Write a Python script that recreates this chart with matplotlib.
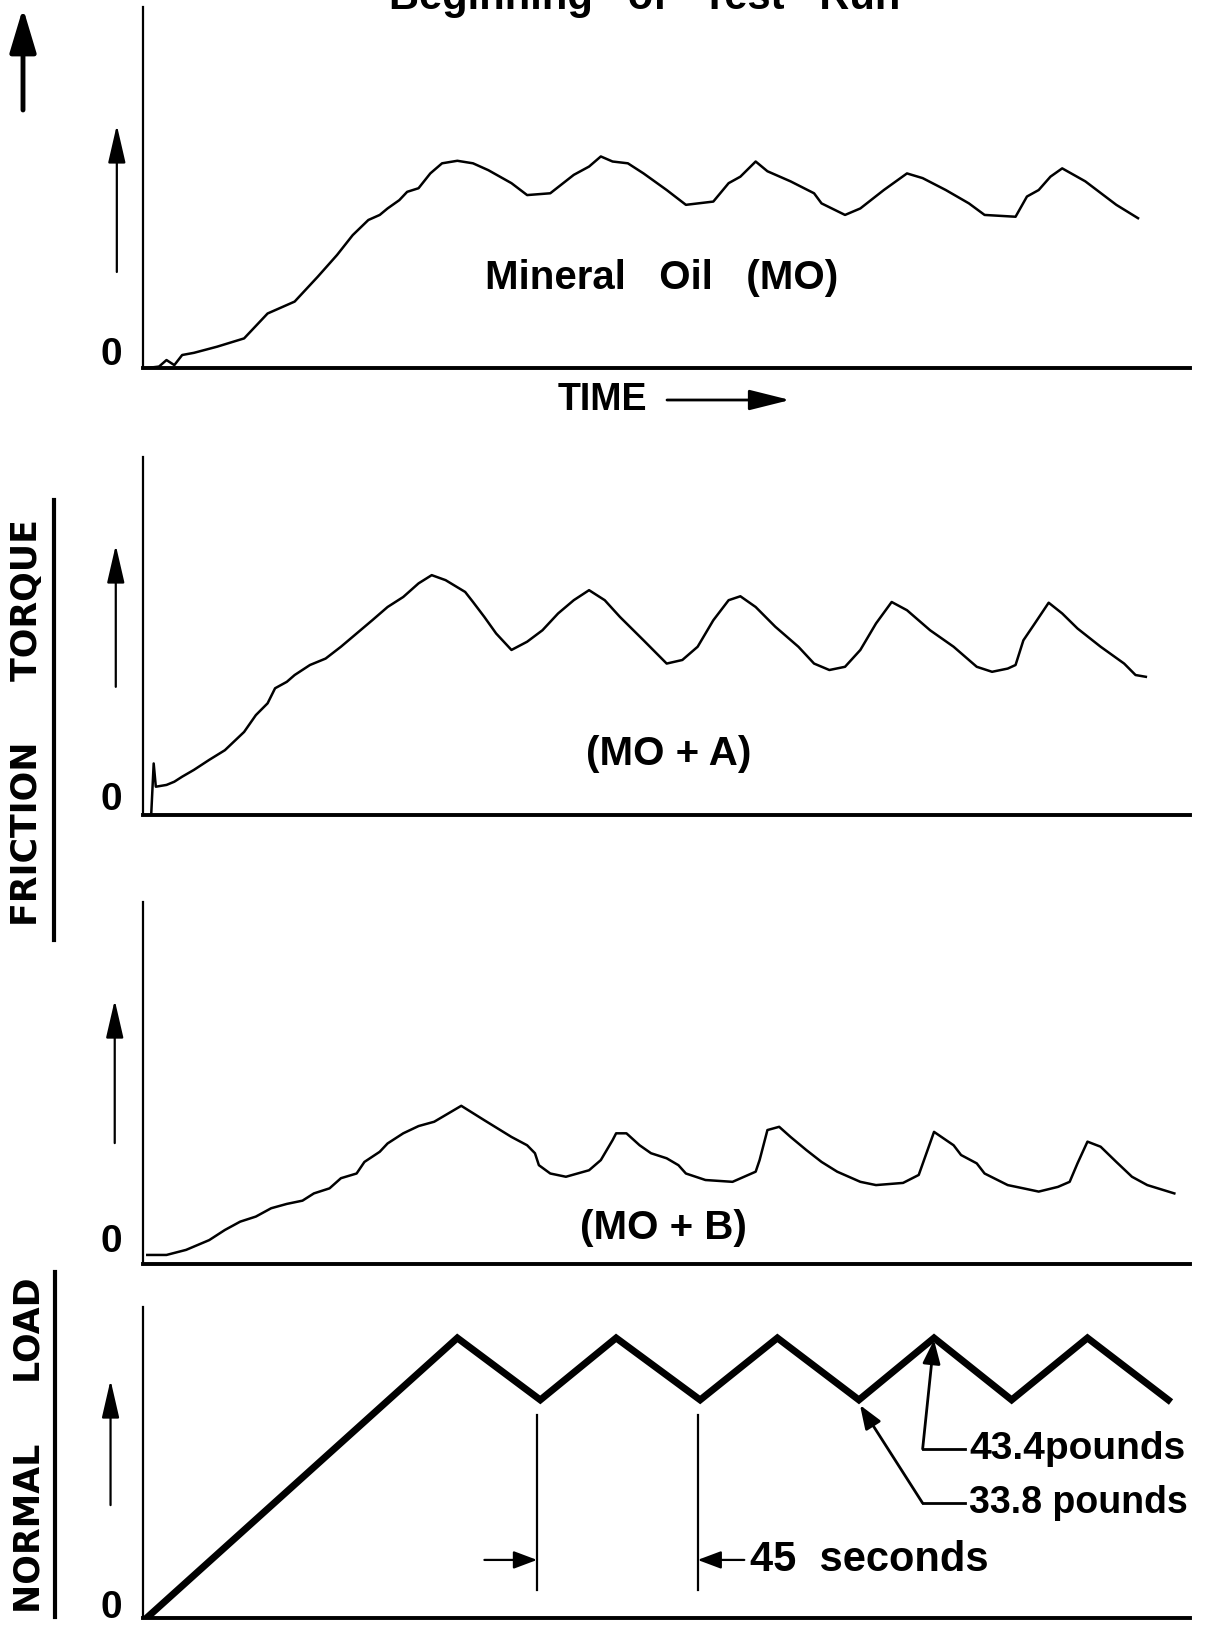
import matplotlib
matplotlib.use("Agg")
import matplotlib.pyplot as plt
from matplotlib.lines import Line2D

plt.rcParams['font.family'] = ['Liberation Sans', 'DejaVu Sans']

# ---- data (time in s, torque in arbitrary units, load in lb) ----
time_mo = [1.2, 4.5, 6.6, 8.8, 11.0, 14.3, 20.8, 28.4, 35.0, 42.6, 49.1, 54.5, 58.9, 63.3, 66.5,
           68.7, 72.0, 74.2, 77.4, 80.7, 84.0, 88.3, 92.7, 97.0, 103.5, 107.9, 114.4, 121.0, 125.3,
           128.6, 131.9, 136.2, 140.6, 147.1, 152.5, 160.2, 164.5, 167.8, 172.1, 175.4, 181.9,
           188.5, 190.6, 197.2, 201.5, 208.1, 214.6, 219.0, 225.5, 232.0, 236.4, 245.1, 248.3,
           251.6, 254.9, 258.2, 264.7, 273.4, 279.5]
torque_mo = [0, 0.4, 2.2, 0.8, 3.6, 4.2, 5.9, 8.2, 15.1, 18.4, 25.3, 31.3, 36.8, 41.0, 42.4,
             44.2, 46.5, 48.8, 49.8, 53.9, 56.7, 57.4, 56.7, 54.8, 51.2, 47.9, 48.4, 53.5, 55.8,
             58.6, 57.2, 56.7, 53.9, 49.3, 45.2, 46.1, 51.2, 53.0, 57.2, 54.5, 51.7,
             48.4, 45.6, 42.4, 44.2, 49.3, 53.9, 52.6, 49.3, 45.6, 42.4, 41.9, 47.5,
             49.3, 53.0, 55.3, 51.7, 45.2, 41.5]

time_mo_a = [2.3, 3.0, 3.6, 6.6, 8.8, 11.0, 14.3, 18.6, 23.0, 28.4, 31.7, 35.0, 37.1, 40.4, 42.6,
             46.9, 51.3, 55.6, 60.0, 64.4, 68.7, 73.1, 77.4, 81.1, 85.0, 90.5, 92.7, 95.9, 99.2,
             103.5, 107.9, 112.2, 116.6, 121.0, 125.3, 129.7, 134.0, 140.6, 147.1, 151.5, 155.8,
             160.2, 164.5, 167.8, 172.1, 177.6, 184.1, 188.5, 192.8, 197.2, 201.5, 205.9, 210.3,
             214.6, 221.1, 227.7, 234.2, 238.5, 242.9, 245.1, 247.3, 250.5, 254.4, 258.2, 262.5,
             269.0, 275.6, 278.8, 281.7]
torque_mo_a = [0, 14.4, 7.9, 8.4, 9.3, 10.7, 12.6, 15.4, 18.1, 23.2, 27.9, 31.2, 35.4, 37.2, 39.1,
               41.9, 43.7, 47.0, 50.7, 54.4, 58.1, 60.9, 64.7, 67.0, 65.6, 62.3, 59.5, 55.3, 50.7,
               46.1, 48.4, 51.6, 56.3, 60.0, 62.8, 60.0, 55.3, 48.8, 42.3, 43.3, 47.0,
               54.4, 60.0, 61.1, 58.1, 52.6, 47.0, 42.3, 40.5, 41.4, 46.1, 53.5, 59.5,
               57.2, 51.6, 47.0, 41.4, 40.0, 40.9, 41.9, 48.8, 53.5, 59.3, 56.3, 52.1,
               47.0, 42.3, 39.1, 38.6]

time_mo_b = [1.2, 6.6, 12.1, 18.6, 23.0, 27.3, 31.7, 36.0, 40.4, 44.8, 48.0, 52.4, 55.6, 60.0, 62.2,
             66.5, 68.7, 73.1, 77.4, 81.8, 89.4, 95.9, 103.5, 107.9, 110.1, 111.2, 114.4, 118.8,
             125.3, 128.6, 131.9, 132.9, 135.8, 139.5, 142.7, 147.1, 150.4, 152.5, 158.0, 165.6,
             172.1, 173.2, 175.4, 178.7, 181.9, 186.3, 190.6, 195.0, 201.5, 205.9, 213.5, 217.9,
             222.2, 227.7, 229.8, 234.2, 236.4, 242.9, 247.3, 251.6, 257.0, 260.3, 262.5, 265.3,
             269.0, 273.4, 277.8, 282.1, 289.7]
torque_mo_b = [2.5, 2.5, 3.9, 6.6, 9.4, 11.7, 13.1, 15.4, 16.6, 17.5, 19.5, 20.9, 23.7, 25.0, 28.2,
               31.0, 33.3, 36.1, 38.1, 39.3, 43.7, 39.7, 35.1, 32.8, 30.6, 27.3, 25.0, 24.1,
               25.9, 28.7, 34.2, 36.1, 36.1, 32.8, 30.6, 29.2, 27.3, 25.0, 23.2, 22.7,
               25.5, 28.7, 37.0, 37.9, 35.1, 31.5, 28.2, 25.5, 22.7, 21.8, 22.4, 24.6,
               36.5, 32.8, 30.1, 27.8, 25.0, 21.8, 20.9, 20.0, 21.3, 22.7, 27.8, 33.8,
               32.4, 28.2, 24.1, 21.8, 19.5]

time_load = [1.0, 88.3, 111.6, 132.9, 156.5, 178.2, 201.1, 222.2, 244.0, 265.3, 288.0]
load_lb = [0, 43.4, 33.8, 43.4, 33.8, 43.4, 33.8, 43.4, 33.8, 43.4, 33.8]

marker_times = [110.7, 155.8]          # the two 45 s marker lines
peak_label, valley_label = '43.4pounds', '33.8 pounds'
panel_labels = ['Mineral   Oil   (MO)', '(MO + A)', '(MO + B)']

# ---- layout ----
fig = plt.figure(figsize=(12.1, 16.3), dpi=100)
W, H = 1210, 1630
left, right = 143, 1190
t_max = (right - left) / 3.56


def add_panel(bottom_px, top_px):
    ax = fig.add_axes([left / W, 1 - bottom_px / H, (right - left) / W, (bottom_px - top_px) / H])
    for s in ['top', 'right']:
        ax.spines[s].set_visible(False)
    ax.spines['left'].set_linewidth(1.6)
    ax.spines['bottom'].set_linewidth(2.8)
    ax.set_xticks([])
    ax.set_yticks([])
    ax.set_xlim(0, t_max)
    ax.patch.set_alpha(0)
    return ax


def side_arrow(ax, x, y0, y1):
    ax.annotate('', xy=(x, y1), xytext=(x, y0), xycoords='axes fraction',
                arrowprops=dict(arrowstyle='-|>,head_length=1.3,head_width=0.3',
                                lw=1.6, color='k', mutation_scale=18,
                                shrinkA=0, shrinkB=0), annotation_clip=False)


txt = dict(fontsize=29, fontweight='bold', color='k')
zero = dict(fontsize=28, fontweight='bold', color='k', ha='center', va='center')

# panel 1: mineral oil
ax1 = add_panel(368, 7)
ax1.set_ylim(0, 100)
ax1.plot(time_mo, torque_mo, color='k', lw=1.8)
ax1.text(0.495, 0.25, panel_labels[0], transform=ax1.transAxes, ha='center', va='center', **txt)
ax1.text(-0.03, 0.036, '0', transform=ax1.transAxes, **zero)
side_arrow(ax1, -0.025, 0.266, 0.673)

# panel 2: MO + A
ax2 = add_panel(815, 457)
ax2.set_ylim(0, 100)
ax2.plot(time_mo_a, torque_mo_a, color='k', lw=1.8)
ax2.text(0.502, 0.17, panel_labels[1], transform=ax2.transAxes, ha='center', va='center', **txt)
ax2.text(-0.03, 0.042, '0', transform=ax2.transAxes, **zero)
side_arrow(ax2, -0.026, 0.358, 0.754)

# panel 3: MO + B
ax3 = add_panel(1264, 902)
ax3.set_ylim(0, 100)
ax3.plot(time_mo_b, torque_mo_b, color='k', lw=1.8)
ax3.text(0.497, 0.1, panel_labels[2], transform=ax3.transAxes, ha='center', va='center', **txt)
ax3.text(-0.03, 0.061, '0', transform=ax3.transAxes, **zero)
side_arrow(ax3, -0.027, 0.334, 0.729)

# panel 4: normal load
ax4 = add_panel(1618, 1307)
ax4.set_ylim(0, 48.2)
ax4.plot(time_load, load_lb, color='k', lw=5, solid_joinstyle='miter')
ax4.text(-0.03, 0.032, '0', transform=ax4.transAxes, **zero)
side_arrow(ax4, -0.031, 0.363, 0.765)

for t in marker_times:
    ax4.plot([t, t], [4.3, 31.5], color='k', lw=1.6)
arr = dict(arrowstyle='-|>,head_length=0.8,head_width=0.3', lw=1.6, color='k',
           mutation_scale=18, shrinkA=0, shrinkB=0)
ax4.annotate('', xy=(marker_times[0], 9.0), xytext=(95.9, 9.0), arrowprops=arr)
ax4.annotate('', xy=(marker_times[1], 9.0), xytext=(168.9, 9.0), arrowprops=arr)
ax4.text(170.5, 9.0, '45  seconds', ha='left', va='center', fontsize=30, fontweight='bold')

# leaders to peak / valley
ax4.plot([219, 231], [26.2, 26.2], color='k', lw=2)
ax4.annotate('', xy=(222.2, 43.1), xytext=(219, 26.2), arrowprops=dict(arr, lw=2))
ax4.text(232, 26.2, peak_label, ha='left', va='center', fontsize=28, fontweight='bold')
ax4.plot([219, 231], [17.8, 17.8], color='k', lw=2)
ax4.annotate('', xy=(201.4, 33.0), xytext=(219, 17.8), arrowprops=dict(arr, lw=2))
ax4.text(232, 17.8, valley_label, ha='left', va='center', fontsize=27, fontweight='bold')

# ---- figure-level texts ----
fig.text(645 / W, 1 - 9 / H, 'Beginning   of   Test   Run', ha='center', va='baseline',
         fontsize=30, fontweight='bold')
fig.text(558 / W, 1 - 400 / H, 'TIME', ha='left', va='center', fontsize=27, fontweight='bold')
fig.add_artist(plt.Annotation('', xy=(790 / W, 1 - 400 / H), xytext=(667 / W, 1 - 400 / H),
                              xycoords='figure fraction',
                              arrowprops=dict(arrowstyle='-|>,head_length=1.4,head_width=0.35',
                                              lw=2, color='k', mutation_scale=18,
                                              shrinkA=0, shrinkB=0)))
# big arrow top left
fig.add_artist(plt.Annotation('', xy=(23 / W, 1 - 8 / H), xytext=(23 / W, 1 - 110 / H),
                              xycoords='figure fraction',
                              arrowprops=dict(arrowstyle='-|>,head_length=1.5,head_width=0.45',
                                              lw=3.5, color='k', mutation_scale=18,
                                              shrinkA=0, shrinkB=0)))

side = dict(rotation=90, ha='center', va='center', fontsize=25, fontweight='bold',
            family=['DejaVu Sans'])
fig.text(27 / W, 1 - 723 / H, 'FRICTION     TORQUE', **side)
fig.text(30 / W, 1 - 1445 / H, 'NORMAL     LOAD', **side)
fig.add_artist(Line2D([54 / W, 54 / W], [1 - 500 / H, 1 - 940 / H], color='k', lw=3))
fig.add_artist(Line2D([55 / W, 55 / W], [1 - 1272 / H, 1 - 1617 / H], color='k', lw=3))

fig.savefig('out.png', dpi=100, facecolor='white')
